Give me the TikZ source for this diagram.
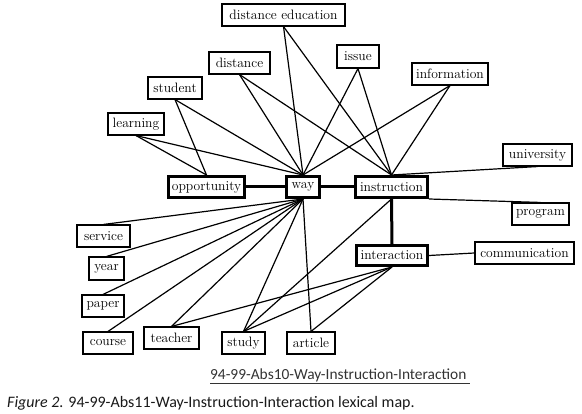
\documentclass[tikz,border=0pt]{standalone}
\usepackage{fontspec}
\newfontfamily\capfont{Carlito}
\begin{document}
\begin{tikzpicture}[x=1pt,y=-1pt,
  word/.style={draw,line width=1.1pt,fill=white,inner sep=0pt,minimum height=22pt,
    font=\fontsize{13.6}{15}\selectfont},
  hub/.style={draw,line width=3pt,fill=white,inner sep=0pt,minimum height=21pt,
    font=\fontsize{13.6}{15}\selectfont},
  link/.style={line width=1.2pt},
  bond/.style={line width=3pt}]
\useasboundingbox (0,0) rectangle (582,414);
% hub nodes
\node[hub,minimum width=76pt] (opp) at (206.5,187) {opportunity};
\node[hub,minimum width=33pt] (way) at (303,187) {way};
\node[hub,minimum width=72pt] (ins) at (391.5,187) {instruction};
\node[hub,minimum width=71pt,minimum height=20pt] (int) at (392,255.5) {interaction};
% upper words
\node[word,minimum width=123pt] (de) at (283.5,15) {distance education};
\node[word,minimum width=61pt] (dis) at (239.5,63) {distance};
\node[word,minimum width=54pt] (stu) at (175,88) {student};
\node[word,minimum width=56pt] (lea) at (136,124) {learning};
\node[word,minimum width=42pt,minimum height=23pt] (iss) at (358,56.5) {issue};
\node[word,minimum width=76pt] (inf) at (450,74) {information};
\node[word,minimum width=69pt] (uni) at (537.5,155) {university};
\node[word,minimum width=57pt] (pro) at (540.5,214) {program};
\node[word,minimum width=99pt] (com) at (524.5,253) {communication};
% lower words
\node[word,minimum width=53pt] (ser) at (103.5,236) {service};
\node[word,minimum width=35pt,minimum height=23pt] (yea) at (106.5,268.5) {year};
\node[word,minimum width=42pt] (pap) at (103,306) {paper};
\node[word,minimum width=50pt] (cou) at (108,343) {course};
\node[word,minimum width=55pt] (tea) at (171.5,338) {teacher};
\node[word,minimum width=43pt] (stud) at (243.5,343) {study};
\node[word,minimum width=48pt] (art) at (311,343) {article};
% thick bonds
\draw[bond] (opp) -- (way);
\draw[bond] (way) -- (ins);
\draw[bond] (ins.south) -- (int.north);
% links
\draw[link] (lea.south) -- (opp.north);
\draw[link] (lea.south) -- (way.north);
\draw[link] (stu.south) -- (opp.north);
\draw[link] (stu.south) -- (way.north);
\draw[link] (dis.south) -- (way.north);
\draw[link] (dis.south) -- (ins.north);
\draw[link] (de.south) -- (way.north);
\draw[link] (de.south) -- (ins.north);
\draw[link] (iss.south) -- (way.north);
\draw[link] (iss.south) -- (ins.north);
\draw[link] (inf.south) -- (way.north);
\draw[link] (inf.south) -- (ins.north);
\draw[link] (uni.south) -- (ins.north);
\draw[link] (ins.south east) -- (pro.north);
\draw[link] (int.east) -- (com.west);
\draw[link] (way.south) -- (ser.north);
\draw[link] (way.south) -- (yea.north);
\draw[link] (way.south) -- (pap.north);
\draw[link] (way.south) -- (cou.north);
\draw[link] (way.south) -- (tea.north);
\draw[link] (way.south) -- (stud.north);
\draw[link] (way.south) -- (art.north);
\draw[link] (tea.north) -- (int.south);
\draw[link] (stud.north) -- (int.south);
\draw[link] (stud.north) -- (ins.south);
\draw[link] (art.north) -- (int.south);
% captions
\node[font=\capfont\fontsize{15.4}{18}\selectfont,text=black!80,inner sep=0pt] (cap1) at (340,376)
  {\underline{94-99-Abs10-Way-Instruction-Interaction\ }};
\node[font=\capfont\fontsize{16}{18}\selectfont,text=black!90,inner sep=0pt,anchor=west] (cap2) at (7,403)
  {\textit{Figure 2.} 94-99-Abs11-Way-Instruction-Interaction lexical map.};
\end{tikzpicture}
\end{document}
